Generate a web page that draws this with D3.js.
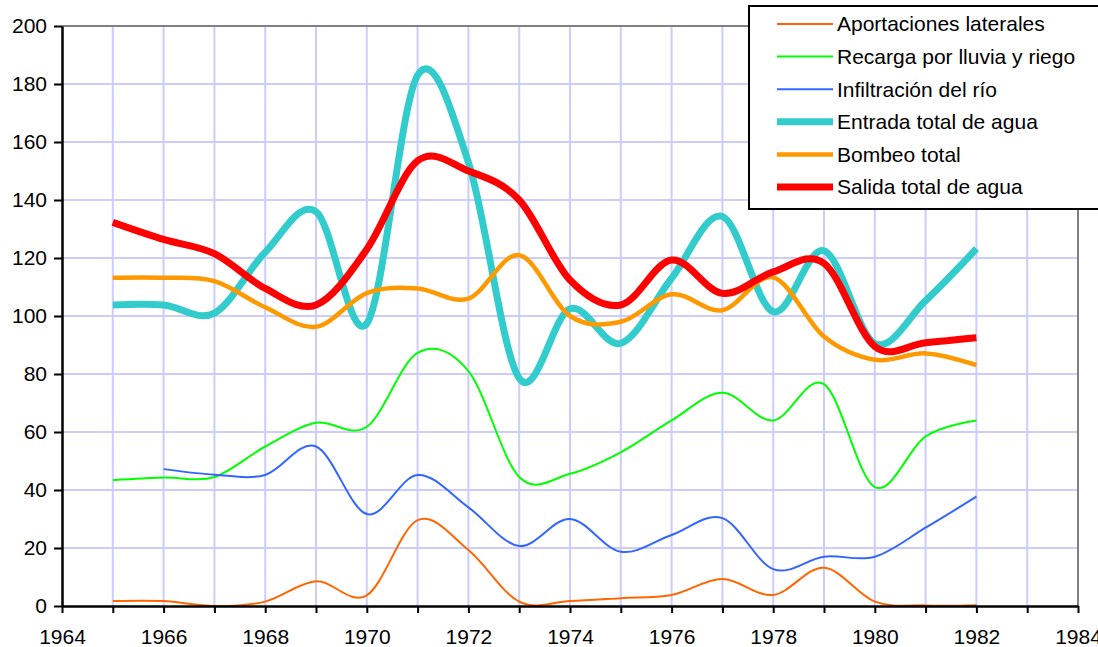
<!DOCTYPE html>
<html>
<head>
<meta charset="utf-8">
<script src="https://cdn.jsdelivr.net/npm/d3@7"></script>
<style>
  html, body { margin: 0; padding: 0; background: #fff; }
  svg { display: block; font-family: "Liberation Sans", Arial, sans-serif; }
</style>
</head>
<body>
<svg id="chart" width="1098" height="647"></svg>
<script>
const years = [1965,1966,1967,1968,1969,1970,1971,1972,1973,1974,1975,1976,1977,1978,1979,1980,1981,1982];
const aportaciones = [1.7,1.7,0,1.5,8.5,3.7,29.6,19.3,1.5,1.7,2.7,3.8,9.3,3.8,13.2,1.5,0.2,0.3];
const recarga = [43.4,44.3,44.5,55,63.2,61.8,87.3,81,44.5,45.6,53,64,73.5,64,76.5,41,58.5,64];
const infiltracion = [null,47.2,45.3,45.2,55,31.7,45.2,34,20.7,30,18.7,24.5,30.3,12.7,17,17,27,37.7];
const entrada = [103.8,103.8,101,122,136,97.4,183,153,78.5,102.5,90.6,113,134.3,101.5,122.5,90.5,105.3,123.2];
const bombeo = [113.2,113.2,112,103,96.3,107.9,109.5,106,121,100,98,107.5,102,113.3,92.9,84.9,87.1,83.1];
const salida = [132.3,126.4,121.5,109.5,103.8,123,153.5,150,140,112.4,103.8,119.3,107.8,115.2,118.2,89.5,90.8,92.5];

const seriesNames = ["Aportaciones laterales","Recarga por lluvia y riego","Infiltración del río","Entrada total de agua","Bombeo total","Salida total de agua"];
const seriesData = [aportaciones, recarga, infiltracion, entrada, bombeo, salida];
const seriesColors = ["#FF6600","#00FF00","#3366FF","#33CCCC","#FF9900","#FF0000"];
const seriesWidths = [2,2,2,7,4.5,7];

const xTickYears = d3.range(1964, 1985);
const yTicks = [0,20,40,60,80,100,120,140,160,180,200];

(function () {
const svg = d3.select("#chart");
const pL = 62, pR = 1078, pT = 26, pB = 606;
const x = d3.scaleLinear().domain([1964, 1984]).range([pL, pR]);
const y = d3.scaleLinear().domain([0, 200]).range([pB, pT]);

// grid
const grid = svg.append("g");
grid.selectAll("line.v").data(xTickYears.filter(d => d > 1964 && d < 1984)).enter().append("line")
  .attr("class", "v")
  .attr("x1", d => x(d)).attr("x2", d => x(d)).attr("y1", pT).attr("y2", pB)
  .attr("stroke", "#CCCCFF").attr("stroke-width", 2);
grid.selectAll("line.h").data(yTicks.filter(d => d > 0 && d < 200)).enter().append("line")
  .attr("class", "h")
  .attr("x1", pL).attr("x2", pR).attr("y1", d => y(d)).attr("y2", d => y(d))
  .attr("stroke", "#CCCCFF").attr("stroke-width", 2);
// frame top/right
svg.append("line").attr("x1", pL).attr("x2", pR).attr("y1", pT).attr("y2", pT)
  .attr("stroke", "#808080").attr("stroke-width", 2);
svg.append("line").attr("x1", pR).attr("x2", pR).attr("y1", pT).attr("y2", pB)
  .attr("stroke", "#808080").attr("stroke-width", 2);

// series
const line = d3.line()
  .defined(d => d[1] !== null)
  .x(d => x(d[0])).y(d => y(d[1]))
  .curve(d3.curveCatmullRom.alpha(0));
seriesData.forEach((vals, i) => {
  const pts = years.map((yr, j) => [yr, vals[j]]);
  svg.append("path").datum(pts)
    .attr("d", line)
    .attr("fill", "none")
    .attr("stroke", seriesColors[i])
    .attr("stroke-width", seriesWidths[i])
    .attr("stroke-linejoin", "round");
});

// axes
const yAxis = svg.append("g").attr("transform", `translate(${pL},0)`)
  .call(d3.axisLeft(y).tickValues(yTicks).tickSize(8).tickPadding(7).tickSizeOuter(0));
const xAxis = svg.append("g").attr("transform", `translate(0,${pB})`)
  .call(d3.axisBottom(x).tickValues(xTickYears).tickSize(7).tickPadding(16).tickSizeOuter(0)
    .tickFormat(d => d % 2 === 0 ? String(d) : ""));
[yAxis, xAxis].forEach(a => {
  a.select(".domain").attr("stroke", "#000").attr("stroke-width", 2.5);
  a.selectAll(".tick line").attr("stroke", "#000").attr("stroke-width", 2);
  a.selectAll(".tick text").attr("fill", "#000").style("font-size", "21px")
    .style("font-family", "'Liberation Sans', Arial, sans-serif");
});

// legend
const lg = svg.append("g");
lg.append("rect").attr("x", 749).attr("y", 6).attr("width", 360).attr("height", 203)
  .attr("fill", "#fff").attr("stroke", "#000").attr("stroke-width", 2);
seriesNames.forEach((name, i) => {
  const cy = 24 + i * 32.6;
  lg.append("line").attr("x1", 777).attr("x2", 833).attr("y1", cy).attr("y2", cy)
    .attr("stroke", seriesColors[i]).attr("stroke-width", seriesWidths[i]);
  lg.append("text").attr("x", 837).attr("y", cy).attr("dy", "0.35em")
    .style("font-size", "21px").attr("fill", "#000").text(name);
});
})();
</script>
</body>
</html>
